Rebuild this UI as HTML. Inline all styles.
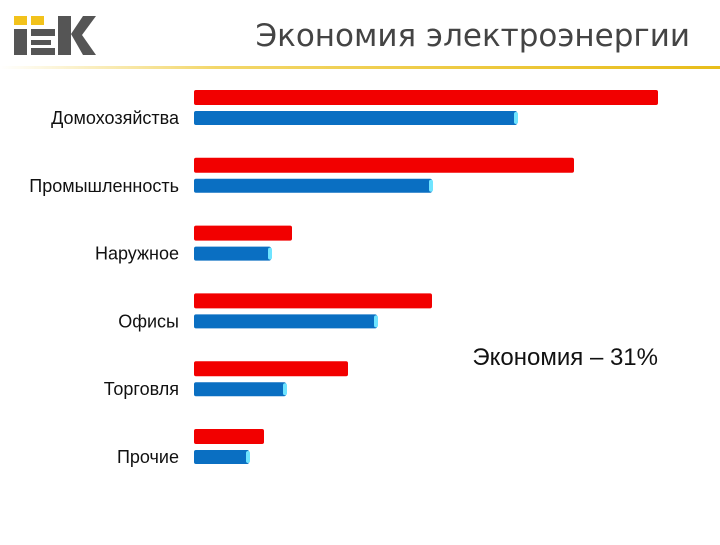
<!DOCTYPE html>
<html><head><meta charset="utf-8"><style>
body{margin:0;width:720px;height:540px;background:#fff;overflow:hidden;font-family:"Liberation Sans",sans-serif}
</style></head><body>
<svg width="720" height="540">
<defs>
<linearGradient id="hl" x1="0" x2="1"><stop offset="0" stop-color="#fff"/><stop offset="0.3" stop-color="#f3d76a"/><stop offset="1" stop-color="#e8bd1a"/></linearGradient>
</defs>
<g>
<rect x="14" y="16" width="13" height="9" fill="#f2c21b"/>
<rect x="14" y="29" width="13" height="26" fill="#555"/>
<rect x="31" y="16" width="13" height="9" fill="#f2c21b"/>
<rect x="31" y="29" width="24" height="7" fill="#555"/>
<rect x="31" y="40" width="20" height="5" fill="#555"/>
<rect x="31" y="48" width="24" height="7" fill="#555"/>
<rect x="58" y="16" width="13" height="39" fill="#555"/>
<polygon points="71,34 83,16 96,16 82,35 96,55 83,55" fill="#555"/>
</g>
<text x="690" y="46" text-anchor="end" font-family="DejaVu Sans, sans-serif" font-size="31" fill="#444">Экономия электроэнергии</text>
<rect x="0" y="66" width="720" height="3" fill="url(#hl)"/>
<g id="bars"></g>
<text x="658" y="365" text-anchor="end" font-size="24" fill="#111">Экономия – 31%</text>
</svg>
<script>
const categories=["Домохозяйства","Промышленность","Наружное","Офисы","Торговля","Прочие"];
const redValues=[464,380,98,238,154,70];
const blueValues=[323,238,77,183,92,55];
const x0=194;
function x(v){return x0+v;}
const g=document.getElementById('bars');
const ns="http://www.w3.org/2000/svg";
categories.forEach((c,i)=>{
  const top=90+i*67.8;
  const r=document.createElementNS(ns,'rect');
  r.setAttribute('x',x0);r.setAttribute('y',top);r.setAttribute('width',x(redValues[i])-x0);r.setAttribute('height',15);r.setAttribute('fill','#f20000');r.setAttribute('rx',2);
  
  
  g.appendChild(r);
  const b=document.createElementNS(ns,'rect');
  b.setAttribute('x',x0);b.setAttribute('y',top+21);b.setAttribute('width',x(blueValues[i])-x0);b.setAttribute('height',14);b.setAttribute('fill','#0a6fc2');b.setAttribute('rx',2);
  
  
  g.appendChild(b);
  const cap=document.createElementNS(ns,'rect');
  cap.setAttribute('x',x(blueValues[i])-3);cap.setAttribute('y',top+22);cap.setAttribute('width',4);cap.setAttribute('height',12);cap.setAttribute('fill','#6fe4ff');cap.setAttribute('rx',2);
  
  
  g.appendChild(cap);
  const t=document.createElementNS(ns,'text');
  t.setAttribute('x',179);t.setAttribute('y',top+34);t.setAttribute('text-anchor','end');t.setAttribute('font-size','18');t.setAttribute('fill','#111');
  t.textContent=c;
  
  
  g.appendChild(t);
});
</script>
</body></html>
